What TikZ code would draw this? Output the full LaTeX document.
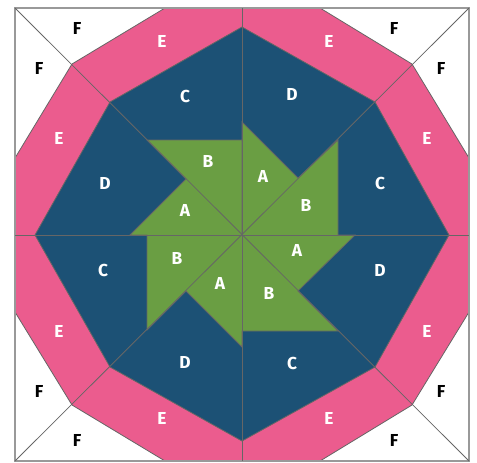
\documentclass[tikz,border=0pt]{standalone}
\usepackage{fontspec}
\setmainfont{Fira Sans}

\begin{document}
\begin{tikzpicture}[
  x=0.75pt, y=-0.75pt,
  seam/.style  ={draw=black!60, line width=0.6pt, line join=miter},
  frame/.style ={draw=black!40, line width=0.9pt},
  patA/.style  ={fill=leaf, seam},
  patC/.style  ={fill=navy, seam},
  patE/.style  ={fill=rose, seam},
  lab/.style   ={font=\fontsize{13}{15}\selectfont\bfseries, text=white, inner sep=0pt},
  labF/.style  ={lab, text=black},
]
\definecolor{leaf}{HTML}{6A9E43}
\definecolor{navy}{HTML}{1C5175}
\definecolor{rose}{HTML}{EB5C8E}

\useasboundingbox (0,0) rectangle (477,462);

% ---------------- vertices ----------------
\coordinate (mid) at (242,235);
\coordinate (tl) at (15,8);
\coordinate (tr) at (469,8);
\coordinate (br) at (469,461);
\coordinate (bl) at (15,461);
\coordinate (tm) at (242,8);
\coordinate (rm) at (469,235);
\coordinate (bm) at (242,461);
\coordinate (lm) at (15,235);

% outer ring
\coordinate (o1) at (165,8);
\coordinate (o2) at (320,8);
\coordinate (o3) at (412,64);
\coordinate (o4) at (469,158);
\coordinate (o5) at (469,312);
\coordinate (o6) at (412,405);
\coordinate (o7) at (320,461);
\coordinate (o8) at (165,461);
\coordinate (o9) at (72,405);
\coordinate (o10) at (15,312);
\coordinate (o11) at (15,158);
\coordinate (o12) at (72,64);

% inner ring
\coordinate (n1) at (242,27);
\coordinate (n2) at (375,102);
\coordinate (n3) at (449,235);
\coordinate (n4) at (375,367);
\coordinate (n5) at (242,441);
\coordinate (n6) at (110,367);
\coordinate (n7) at (35,235);
\coordinate (n8) at (110,102);

% pinwheel
\coordinate (a1) at (242,122);
\coordinate (a2) at (298,178);
\coordinate (b1) at (338,140);
\coordinate (b2) at (338,235);
\coordinate (a3) at (355,235);
\coordinate (a4) at (298,291);
\coordinate (b3) at (338,331);
\coordinate (b4) at (242,331);
\coordinate (a5) at (242,347);
\coordinate (a6) at (186,291);
\coordinate (b5) at (147,330);
\coordinate (b6) at (147,235);
\coordinate (a7) at (130,235);
\coordinate (a8) at (186,179);
\coordinate (b7) at (147,140);
\coordinate (b8) at (242,140);

% ---------------- patches ----------------
\filldraw[patE] (o1) -- (o2) -- (o3) -- (o4) -- (o5) -- (o6) -- (o7) -- (o8)
  -- (o9) -- (o10) -- (o11) -- (o12) -- cycle;

\filldraw[patC] (n1) -- (n2) -- (n3) -- (n4) -- (n5) -- (n6) -- (n7) -- (n8) -- cycle;

\filldraw[patA] (mid) -- (a1) -- (a2) -- (b1) -- (b2) -- (a3) -- (a4) -- (b3) -- (b4)
  -- (a5) -- (a6) -- (b5) -- (b6) -- (a7) -- (a8) -- (b7) -- (b8) -- cycle;

% ---------------- seams ----------------
\draw[frame] (tl) rectangle (br);
\draw[seam] (tl) -- (br);
\draw[seam] (tr) -- (bl);
\draw[seam] (tm) -- (bm);
\draw[seam] (lm) -- (rm);

% ---------------- labels ----------------
\node[lab] (a-n) at (263,176) {A};
\node[lab] (a-e) at (297,250) {A};
\node[lab] (a-s) at (220,283) {A};
\node[lab] (a-w) at (185,210) {A};

\node[lab] (b-e) at (306,205) {B};
\node[lab] (b-s) at (269,293) {B};
\node[lab] (b-w) at (177,258) {B};
\node[lab] (b-n) at (208,161) {B};

\node[lab] (c-n) at (185,96) {C};
\node[lab] (c-e) at (380,183) {C};
\node[lab] (c-s) at (292,363) {C};
\node[lab] (c-w) at (103,270) {C};

\node[lab] (d-n) at (292,94) {D};
\node[lab] (d-e) at (380,270) {D};
\node[lab] (d-s) at (185,362) {D};
\node[lab] (d-w) at (105,183) {D};

\node[lab] (e-nw) at (162,41) {E};
\node[lab] (e-ne) at (329,41) {E};
\node[lab] (e-en) at (427,138) {E};
\node[lab] (e-es) at (427,331) {E};
\node[lab] (e-se) at (329,418) {E};
\node[lab] (e-sw) at (162,418) {E};
\node[lab] (e-ws) at (59,331) {E};
\node[lab] (e-wn) at (59,138) {E};

\node[labF] (f-nw) at (77,28) {F};
\node[labF] (f-wn) at (39,68) {F};
\node[labF] (f-ne) at (394,28) {F};
\node[labF] (f-en) at (441,68) {F};
\node[labF] (f-es) at (441,391) {F};
\node[labF] (f-se) at (394,440) {F};
\node[labF] (f-sw) at (77,440) {F};
\node[labF] (f-ws) at (39,391) {F};

\end{tikzpicture}
\end{document}
